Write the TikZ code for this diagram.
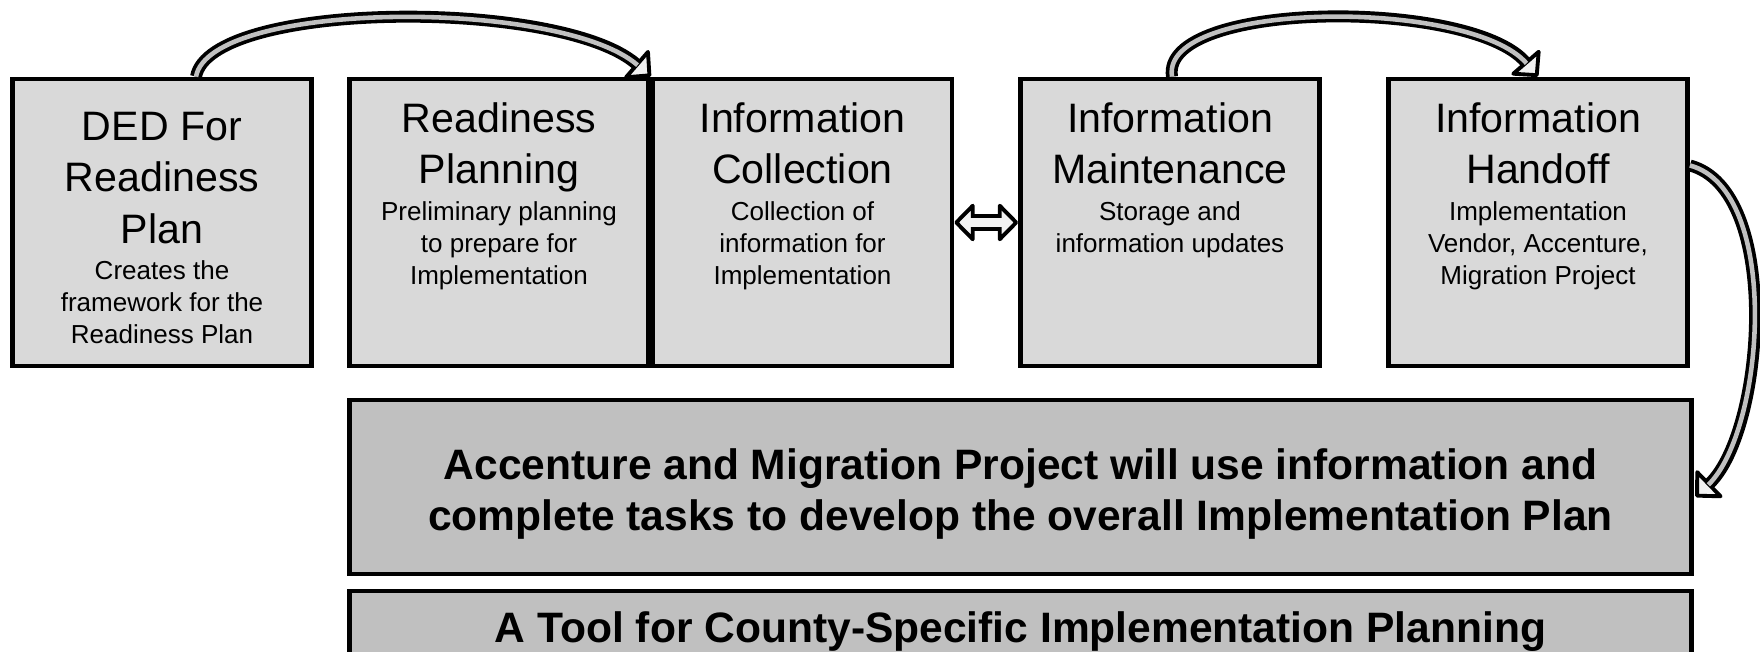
\documentclass[tikz,border=0pt]{standalone}
\usepackage{fontspec}
\setmainfont{Liberation Sans}
\usetikzlibrary{positioning,arrows.meta}

\definecolor{boxgray}{HTML}{D9D9D9}
\definecolor{bannergray}{HTML}{C0C0C0}
\definecolor{tailgray}{HTML}{C0C0C0}
\definecolor{tipgray}{HTML}{F2F2F2}

\tikzset{
    stage/.style={draw, line width=1.3pt, fill=boxgray, minimum width=2.99cm, minimum height=2.87cm, inner sep=0pt},
    stagetitle/.style={align=center, inner sep=0pt, font=\fontsize{11.7pt}{14.7pt}\selectfont},
    stagenote/.style={align=center, inner sep=0pt, font=\fontsize{7.4pt}{9.1pt}\selectfont},
    banner/.style={draw, line width=1.3pt, fill=bannergray, minimum width=13.41cm, inner sep=0pt},
    bannertext/.style={align=center, inner sep=0pt, font=\fontsize{12.1pt}{14.6pt}\selectfont\bfseries},
    bend outer/.style={line width=3.4pt, -{Triangle[round, length=6pt, width=12pt, line width=1.1pt, fill=tipgray]}},
    bend inner/.style={line width=1.3pt, tailgray, shorten >=5pt},
    swap outer/.style={line width=5pt, {Triangle[round, length=6pt, width=12pt, line width=1.1pt, fill=tipgray]}-{Triangle[round, length=6pt, width=12pt, line width=1.1pt, fill=tipgray]}},
    swap inner/.style={line width=2.6pt, tipgray, shorten >=4pt, shorten <=4pt}
}

\begin{document}
\begin{tikzpicture}[x=0.01cm, y=-0.01cm]
    \clip (0,0) rectangle (1760,652);

    % Stage boxes
    \node[stage] (ded) at (162,222.5) {};
    \node[stage] (readiness) at (499,222.5) {};
    \node[stage] (collect) at (802.5,222.5) {};
    \node[stage] (maintain) at (1170,222.5) {};
    \node[stage] (handoff) at (1538,222.5) {};

    % Stage texts
    \node[stagetitle, below=0.345cm of ded.north] (ded-title) {DED For\\Readiness\\Plan};
    \node[stagenote, below=1.83cm of ded.north] (ded-note) {Creates the\\framework for the\\Readiness Plan};
    \node[stagetitle, below=0.25cm of readiness.north] (readiness-title) {Readiness\\Planning};
    \node[stagenote, below=1.24cm of readiness.north] (readiness-note) {Preliminary planning\\to prepare for\\Implementation};
    \node[stagetitle, below=0.25cm of collect.north] (collect-title) {Information\\Collection};
    \node[stagenote, below=1.24cm of collect.north] (collect-note) {Collection of\\information for\\Implementation};
    \node[stagetitle, below=0.25cm of maintain.north] (maintain-title) {Information\\Maintenance};
    \node[stagenote, below=1.24cm of maintain.north] (maintain-note) {Storage and\\information updates};
    \node[stagetitle, below=0.25cm of handoff.north] (handoff-title) {Information\\Handoff};
    \node[stagenote, below=1.24cm of handoff.north] (handoff-note) {Implementation\\Vendor, Accenture,\\Migration Project};

    % Banners
    \node[banner, minimum height=1.74cm] (usage) at (1020.5,487) {};
    \node[bannertext] (usage-text) at (1020.5,494) {Accenture and Migration Project will use information and\\complete tasks to develop the overall Implementation Plan};
    \node[banner, minimum height=0.70cm] (tool) at (1020.5,626) {};
    \node[bannertext] (tool-text) at (1020.5,632) {A Tool for County-Specific Implementation Planning};

    % Curved arrows
    \draw[bend outer] ([xshift=0.34cm]ded.north) .. controls (210,0) and (560,-2) .. (readiness.north east);
    \draw[bend inner] ([xshift=0.34cm]ded.north) .. controls (210,0) and (560,-2) .. (readiness.north east);
    \draw[bend outer] ([xshift=0.02cm]maintain.north) .. controls (1160,0) and (1470,-2) .. (handoff.north);
    \draw[bend inner] ([xshift=0.02cm]maintain.north) .. controls (1160,0) and (1470,-2) .. (handoff.north);
    \draw[bend outer] ([yshift=0.57cm]handoff.east) .. controls (1782,190) and (1765,430) .. ([xshift=0.02cm,yshift=-0.1cm]usage.east);
    \draw[bend inner] ([yshift=0.57cm]handoff.east) .. controls (1782,190) and (1765,430) .. ([xshift=0.02cm,yshift=-0.1cm]usage.east);

    % Two-way arrow
    \draw[swap outer] (collect.east) -- (maintain.west);
    \draw[swap inner] (collect.east) -- (maintain.west);
\end{tikzpicture}
\end{document}
